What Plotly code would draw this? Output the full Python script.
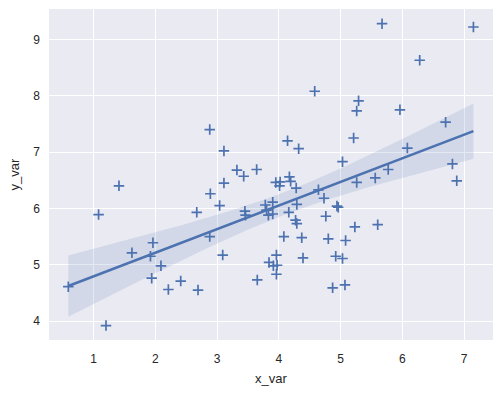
import numpy as np
import plotly.graph_objects as go

x_var = [0.59, 1.08, 1.20, 1.41, 1.62, 1.92, 1.96, 1.94, 2.09, 2.21,
         2.41, 2.67, 2.69, 2.88, 2.89, 2.88, 3.04, 3.11, 3.11, 3.09,
         3.32, 3.43, 3.45, 3.46, 3.64, 3.65, 3.78, 3.80, 3.83, 3.90,
         3.90, 3.84, 3.91, 3.97, 3.96, 3.96, 3.95, 4.02, 4.01, 4.08,
         4.14, 4.17, 4.19, 4.16, 4.28, 4.29, 4.27, 4.29, 4.32, 4.37,
         4.39, 4.58, 4.64, 4.73, 4.76, 4.80, 4.87, 4.92, 4.94, 4.96,
         5.03, 5.03, 5.08, 5.07, 5.21, 5.23, 5.26, 5.29, 5.26, 5.56,
         5.60, 5.67, 5.77, 5.96, 6.08, 6.28, 6.70, 6.81, 6.88, 7.15]
y_var = [4.61, 5.89, 3.92, 6.40, 5.21, 5.15, 5.39, 4.76, 4.98, 4.56,
         4.71, 5.93, 4.55, 7.40, 6.26, 5.50, 6.05, 7.02, 6.45, 5.17,
         6.68, 6.57, 5.95, 5.88, 6.69, 4.73, 6.06, 5.97, 5.88, 6.11,
         5.90, 5.04, 4.98, 4.99, 5.17, 4.83, 6.46, 6.47, 6.40, 5.50,
         7.20, 6.56, 6.48, 5.93, 6.36, 6.07, 5.79, 5.73, 7.06, 5.48,
         5.12, 8.08, 6.33, 6.18, 5.86, 5.46, 4.59, 5.15, 6.04, 6.02,
         6.83, 5.11, 5.43, 4.64, 7.25, 5.67, 7.73, 7.91, 6.46, 6.54,
         5.71, 9.28, 6.69, 7.75, 7.07, 8.63, 7.53, 6.79, 6.49, 9.22]

x_ticks = [1, 2, 3, 4, 5, 6, 7]
y_ticks = [4, 5, 6, 7, 8, 9]

COLOR = "#4C72B0"

x = np.array(x_var)
y = np.array(y_var)
n = len(x)
slope, intercept = np.polyfit(x, y, 1)
grid = np.linspace(x.min(), x.max(), 100)
fit = intercept + slope * grid
resid = y - (intercept + slope * x)
s = np.sqrt(np.sum(resid ** 2) / (n - 2))
sxx = np.sum((x - x.mean()) ** 2)
tval = 1.99
half = tval * s * np.sqrt(1.0 / n + (grid - x.mean()) ** 2 / sxx)
lo = fit - half
hi = fit + half

fig = go.Figure()
fig.add_trace(go.Scatter(
    x=np.concatenate([grid, grid[::-1]]),
    y=np.concatenate([hi, lo[::-1]]),
    fill="toself", fillcolor="rgba(76,114,176,0.15)",
    line=dict(width=0), mode="lines", hoverinfo="skip", showlegend=False))
fig.add_trace(go.Scatter(
    x=x_var, y=y_var, mode="markers",
    marker=dict(symbol="cross-thin", size=7.5, color=COLOR,
                line=dict(width=1.7, color=COLOR)),
    showlegend=False))
fig.add_trace(go.Scatter(
    x=grid, y=fit, mode="lines",
    line=dict(color=COLOR, width=2.6), showlegend=False))

font_color = "#262626"
fig.update_layout(
    width=502, height=393,
    margin=dict(l=49, r=9, t=9, b=53, autoexpand=False),
    paper_bgcolor="white", plot_bgcolor="#EAEAF2",
    font=dict(family="Liberation Sans, Arial, sans-serif", size=12, color=font_color),
    xaxis=dict(range=[0.277, 7.467], tickvals=x_ticks, showgrid=True,
               gridcolor="white", gridwidth=1, zeroline=False, showline=False,
               ticks="", ticklabelstandoff=10, automargin=False,
               title=dict(text="x_var", font=dict(size=13), standoff=8)),
    yaxis=dict(range=[3.663, 9.54], tickvals=y_ticks, showgrid=True,
               gridcolor="white", gridwidth=1, zeroline=False, showline=False,
               ticks="", ticklabelstandoff=8, automargin=False,
               title=dict(text="y_var", font=dict(size=13), standoff=10)),
)

fig.write_html("out.html", post_script="document.body.style.margin='0';",
               config={"displayModeBar": False})
